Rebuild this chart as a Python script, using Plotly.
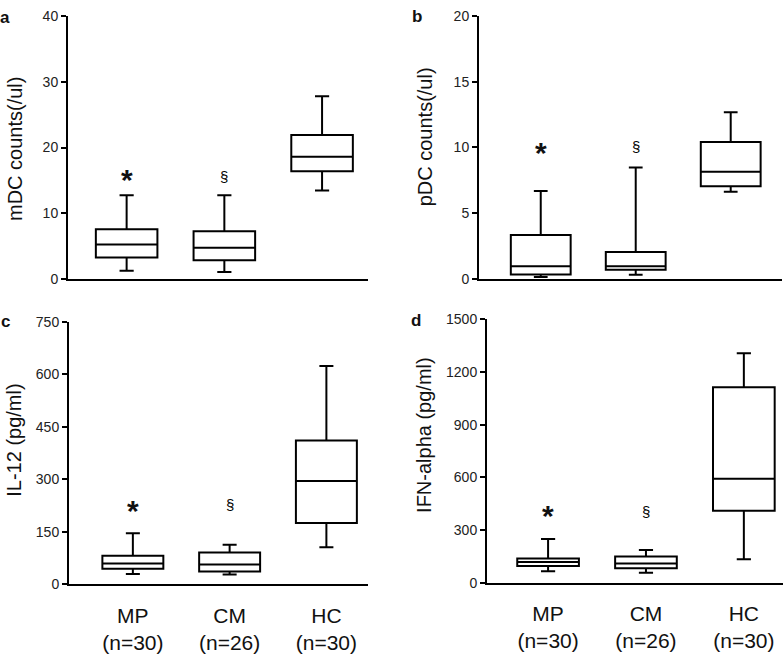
import plotly.graph_objects as go

groups = ["MP", "CM", "HC"]
group_labels = ["MP<br>(n=30)", "CM<br>(n=26)", "HC<br>(n=30)"]

# panel a: mDC counts
a_low = [1.3, 1.1, 13.5]
a_q1 = [3.3, 2.9, 16.4]
a_med = [5.3, 4.8, 18.6]
a_q3 = [7.6, 7.3, 21.9]
a_high = [12.75, 12.75, 27.8]

# panel b: pDC counts
b_low = [0.12, 0.3, 6.62]
b_q1 = [0.32, 0.67, 7.04]
b_med = [0.94, 0.94, 8.15]
b_q3 = [3.33, 2.02, 10.4]
b_high = [6.67, 8.47, 12.67]

# panel c: IL-12
c_low = [30, 28, 106]
c_q1 = [45, 37, 175]
c_med = [60, 57, 295]
c_q3 = [82, 91, 411]
c_high = [146, 113, 624]

# panel d: IFN-alpha
d_low = [65, 57, 134]
d_q1 = [96, 83, 410]
d_med = [118, 109, 593]
d_q3 = [138, 149, 1113]
d_high = [249, 187, 1307]

# significance marker heights (data units) for MP (*) and CM (§)
a_marks = [15.4, 15.1]
b_marks = [9.75, 9.8]
c_marks = [216, 221]
d_marks = [393, 387]

titles = ["mDC counts(/ul)", "pDC counts(/ul)", "IL-12 (pg/ml)", "IFN-alpha (pg/ml)"]
letters = ["a", "b", "c", "d"]

W, H = 784, 654
FONT = "Liberation Sans, Arial, Helvetica, sans-serif"

fig = go.Figure()

panels = [
    dict(low=a_low, q1=a_q1, med=a_med, q3=a_q3, high=a_high, marks=a_marks,
         px=(68, 368), py=(279, 8), yr=(0, 40), dt=10, xr=(-0.6, 2.47),
         title_xy=(15, 145), letter_xy=(5, 10), bottom=False),
    dict(low=b_low, q1=b_q1, med=b_med, q3=b_q3, high=b_high, marks=b_marks,
         px=(479, 782), py=(278.3, 8.3), yr=(0, 20), dt=5, xr=(-0.65, 2.54),
         title_xy=(425, 133), letter_xy=(417, 9), bottom=False),
    dict(low=c_low, q1=c_q1, med=c_med, q3=c_q3, high=c_high, marks=c_marks,
         px=(69, 368), py=(592.7, 322.7), yr=(0, 750), dt=150, xr=(-0.66, 2.43),
         title_xy=(14, 445), letter_xy=(5, 322), bottom=True),
    dict(low=d_low, q1=d_q1, med=d_med, q3=d_q3, high=d_high, marks=d_marks,
         px=(487, 783), py=(591, 320.2), yr=(0, 1500), dt=300, xr=(-0.624, 2.40),
         title_xy=(424, 439), letter_xy=(416, 321), bottom=True),
]

for i, p in enumerate(panels):
    n = i + 1
    xa = "x" if n == 1 else f"x{n}"
    ya = "y" if n == 1 else f"y{n}"
    fig.add_trace(go.Box(
        x=[0, 1, 2], q1=p["q1"], median=p["med"], q3=p["q3"],
        lowerfence=p["low"], upperfence=p["high"],
        width=0.63, whiskerwidth=0.23,
        fillcolor="white", line=dict(color="black", width=2),
        boxpoints=False, hoverinfo="skip", showlegend=False,
        xaxis=xa, yaxis=ya,
    ))
    xkey = "xaxis" if n == 1 else f"xaxis{n}"
    ykey = "yaxis" if n == 1 else f"yaxis{n}"
    fig.update_layout({
        xkey: dict(
            domain=[p["px"][0] / W, p["px"][1] / W], range=list(p["xr"]),
            anchor=ya, showline=True, linecolor="black", linewidth=2,
            showgrid=False, zeroline=False, ticks="",
            tickvals=[0, 1, 2], ticktext=group_labels if p["bottom"] else ["", "", ""],
            showticklabels=p["bottom"],
            tickfont=dict(family=FONT, size=21, color="#111"),
            ticklabelstandoff=11,
        ),
        ykey: dict(
            domain=[1 - p["py"][0] / H, 1 - p["py"][1] / H], range=list(p["yr"]),
            anchor=xa, showline=True, linecolor="black", linewidth=2,
            showgrid=False, zeroline=False, ticks="outside", ticklen=5,
            tickwidth=2, tickcolor="black", dtick=p["dt"], tick0=0,
            tickfont=dict(family=FONT, size=14, color="#222"),
        ),
    })
    # y-axis title
    fig.add_annotation(
        x=p["title_xy"][0] / W, y=1 - p["title_xy"][1] / H, xref="paper", yref="paper",
        text=titles[i], textangle=-90, showarrow=False,
        font=dict(family=FONT, size=20, color="#111"),
        xanchor="center", yanchor="middle",
    )
    # panel letter
    fig.add_annotation(
        x=p["letter_xy"][0] / W, y=1 - p["letter_xy"][1] / H, xref="paper", yref="paper",
        text=f"<b>{letters[i]}</b>", showarrow=False,
        font=dict(family=FONT, size=17, color="#111"),
        xanchor="center", yanchor="middle",
    )
    # significance marks
    fig.add_annotation(
        x=0, y=p["marks"][0], xref=xa, yref=ya, text="<b>*</b>", showarrow=False,
        font=dict(family=FONT, size=30, color="#111"), yshift=-2,
    )
    fig.add_annotation(
        x=1, y=p["marks"][1], xref=xa, yref=ya, text="§", showarrow=False,
        font=dict(family=FONT, size=15, color="black"), yshift=3,
    )

fig.update_layout(
    width=W, height=H, margin=dict(l=0, r=0, t=0, b=0),
    paper_bgcolor="white", plot_bgcolor="white",
    font=dict(family=FONT),
)

fig.write_html(
    "out.html",
    config={"displayModeBar": False},
    post_script="document.body.style.margin='0';document.body.style.padding='0';document.body.style.overflow='hidden';",
)
